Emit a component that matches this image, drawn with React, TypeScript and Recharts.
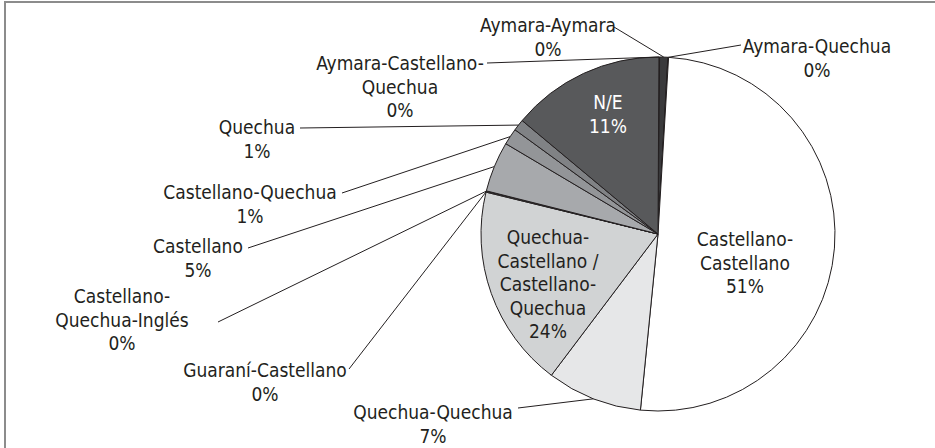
import React from "react";
import { PieChart, Pie, Cell } from "recharts";

// Categories in clockwise order starting at 12 o'clock
const categories = [
  "Aymara-Castellano-Quechua",
  "Aymara-Aymara",
  "Aymara-Quechua",
  "Castellano-Castellano",
  "Quechua-Quechua",
  "Quechua-Castellano / Castellano-Quechua",
  "Guaraní-Castellano",
  "Castellano-Quechua-Inglés",
  "Castellano",
  "Castellano-Quechua",
  "Quechua",
  "N/E",
];

// Slice shares as they appear in the picture (percent)
const shares = [0.06, 0.75, 0.06, 50.6, 8.7, 18.5, 0.06, 0.06, 4.6, 1.5, 1.05, 14.0];

// Percent labels as printed
const printedPct = ["0%", "0%", "0%", "51%", "7%", "24%", "0%", "0%", "5%", "1%", "1%", "11%"];

// Label text lines (category wrapped as printed)
const labelLines: string[][] = [
  ["Aymara-Castellano-", "Quechua"],
  ["Aymara-Aymara"],
  ["Aymara-Quechua"],
  ["Castellano-", "Castellano"],
  ["Quechua-Quechua"],
  ["Quechua-", "Castellano /", "Castellano-", "Quechua"],
  ["Guaraní-Castellano"],
  ["Castellano-", "Quechua-Inglés"],
  ["Castellano"],
  ["Castellano-Quechua"],
  ["Quechua"],
  ["N/E"],
];

const colors = [
  "#3a3a3c", "#3a3a3c", "#3a3a3c", "#ffffff", "#e6e7e8", "#d1d3d4",
  "#d1d3d4", "#d1d3d4", "#a7a9ac", "#939598", "#808285", "#58595b",
];

// Label placement (text centre x, first line centre y, leader start or null)
const labelLayout: { x: number; y: number; lx?: number; ly?: number; white?: boolean }[] = [
  { x: 400, y: 63, lx: 487, ly: 63 },
  { x: 548, y: 25, lx: 614, ly: 27 },
  { x: 817, y: 46, lx: 741, ly: 45 },
  { x: 745, y: 239 },
  { x: 433, y: 412, lx: 518, ly: 408 },
  { x: 548, y: 237 },
  { x: 265, y: 370, lx: 349, ly: 369 },
  { x: 122, y: 296, lx: 218, ly: 322 },
  { x: 198, y: 246, lx: 248, ly: 248 },
  { x: 250, y: 192, lx: 342, ly: 193 },
  { x: 257, y: 127, lx: 300, ly: 128 },
  { x: 608, y: 102, white: true },
];

const data = categories.map((name, i) => ({ name, value: shares[i] }));

const RAD = Math.PI / 180;
const LINE_H = 23.5;
const FONT = "'Liberation Sans Narrow', 'DejaVu Sans Condensed', 'Liberation Sans', sans-serif";

const renderLabel = (props: any) => {
  const { cx, cy, midAngle, outerRadius, index } = props;
  const lay = labelLayout[index];
  const lines = [...labelLines[index], printedPct[index]];
  const px = cx + outerRadius * Math.cos(-midAngle * RAD);
  const py = cy + outerRadius * Math.sin(-midAngle * RAD);
  return (
    <g key={`lbl-${index}`}>
      {lay.lx !== undefined && (
        <line x1={lay.lx} y1={lay.ly} x2={px} y2={py} stroke="#231f20" strokeWidth={1} />
      )}
      {lines.map((t, k) => (
        <text
          key={k}
          x={lay.x}
          y={lay.y + k * LINE_H}
          textAnchor="middle"
          dominantBaseline="central"
          fontFamily={FONT}
          fontSize={19}
          fill={lay.white ? "#ffffff" : "#231f20"}
        >
          {t}
        </text>
      ))}
    </g>
  );
};

export default function App() {
  return (
    <div style={{ position: "absolute", left: 0, top: 0, width: 935, height: 448, background: "#fff" }}>
      <div
        style={{
          position: "absolute",
          left: 4,
          top: 1,
          right: 0,
          bottom: 0,
          borderTop: "2px solid #8c8c8c",
          borderLeft: "2px solid #8c8c8c",
        }}
      />
      <PieChart width={935} height={448} margin={{ top: 0, right: 0, bottom: 0, left: 0 }}>
        <Pie
          data={data}
          dataKey="value"
          nameKey="name"
          cx={658}
          cy={234}
          outerRadius={177}
          startAngle={89.7}
          endAngle={-270.3}
          stroke="#231f20"
          strokeWidth={1}
          label={renderLabel}
          labelLine={false}
          isAnimationActive={false}
        >
          {data.map((d, i) => (
            <Cell key={d.name} fill={colors[i]} />
          ))}
        </Pie>
      </PieChart>
    </div>
  );
}
